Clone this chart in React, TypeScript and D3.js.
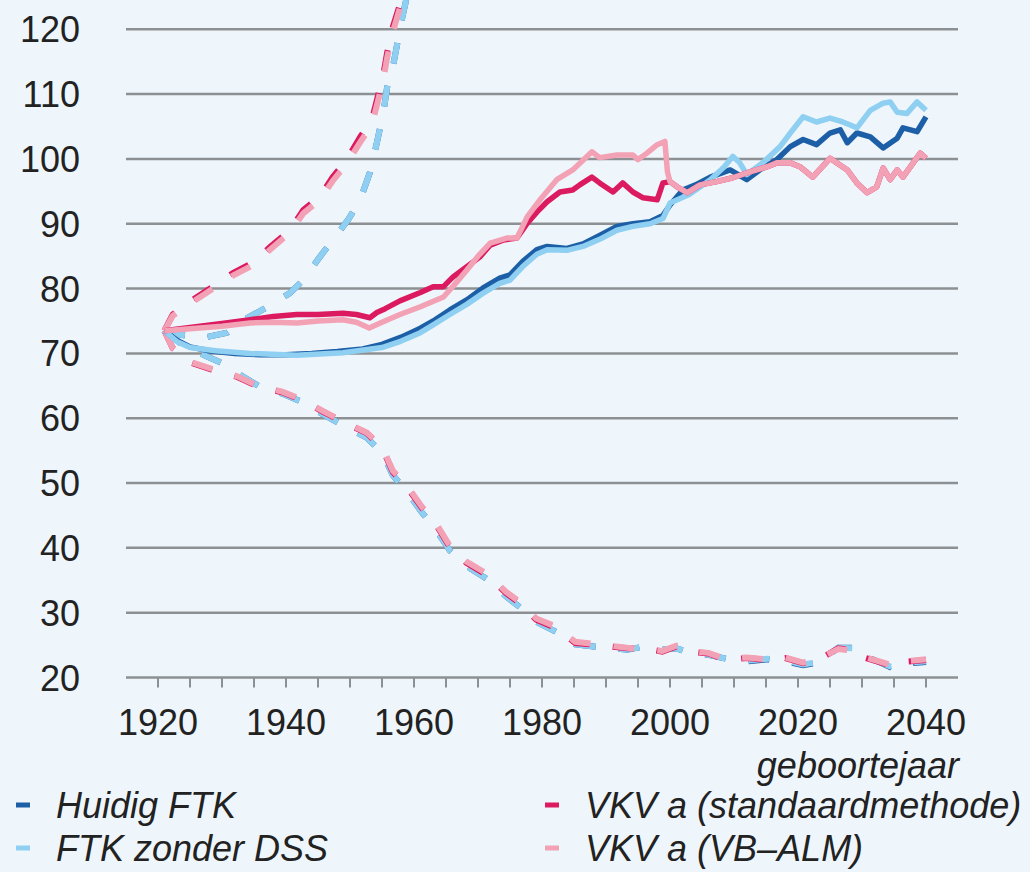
import { useEffect, useRef } from "react"
import * as d3 from "d3"

type Pt = [number, number]

// tick labels
const yTicks = [20, 30, 40, 50, 60, 70, 80, 90, 100, 110, 120]
const xLabelYears = [1920, 1940, 1960, 1980, 2000, 2020, 2040]
const xTickYears = d3.range(1920, 2041, 5)

// Huidig FTK
const huidigMedian: Pt[] = [
  [1921, 73.5], [1923, 72.0], [1925, 71.0], [1928, 70.4], [1932, 70.0], [1936, 69.8], [1940, 69.8],
  [1944, 70.0], [1948, 70.3], [1952, 70.7], [1955, 71.4], [1958, 72.5], [1961, 73.9], [1963, 75.0],
  [1965.6, 76.7], [1968.3, 78.3], [1970.8, 80.1], [1973.4, 81.6], [1975, 82.1], [1977, 84.2],
  [1979.2, 86.0], [1980.8, 86.5], [1983.9, 86.2], [1986.4, 86.9], [1989, 88.2], [1991.7, 89.6],
  [1994.2, 90.0], [1996.9, 90.3], [1998.9, 91.3], [2000, 92.9], [2002, 95.2], [2004, 96.0],
  [2006.3, 97.2], [2009.4, 98.3], [2012, 96.8], [2014, 98.3], [2016.7, 99.9], [2018.8, 101.9],
  [2020.8, 103.0], [2022.9, 102.2], [2025, 104.0], [2026.6, 104.5], [2027.7, 102.5], [2029.2, 104.0],
  [2031.3, 103.4], [2033.3, 101.7], [2035.5, 103.2], [2036.4, 104.8], [2038.6, 104.2], [2040, 106.5],
]
const huidigUpper: Pt[] = [
  [1921, 73.5], [1924, 72.8], [1927, 72.4], [1930.8, 73.2], [1934, 75.5], [1937, 77.1], [1940.6, 79.3],
  [1942.7, 81.3], [1945.3, 84.9], [1947.3, 87.5], [1949.7, 90.6], [1951.6, 93.7], [1953.1, 97.9],
  [1954.2, 102.5], [1955.2, 107.1], [1955.9, 111.7], [1956.7, 114.2], [1958.1, 121.5], [1960, 130],
]
const huidigLower: Pt[] = [
  [1921, 73.5], [1924, 71.2], [1927.5, 69.6], [1930, 68.5], [1933, 66.6], [1936, 64.8], [1939.4, 63.8],
  [1942.5, 62.5], [1945.8, 60.6], [1948.9, 58.9], [1952.6, 57.0], [1955, 54.7], [1956.7, 51.2],
  [1958.9, 48.7], [1961.2, 45.5], [1963.3, 43.0], [1965.6, 39.6], [1968.2, 37.2], [1971.4, 35.2],
  [1974.4, 32.5], [1976.6, 30.8], [1979.1, 28.6], [1982.3, 27.0], [1985.2, 25.1], [1988.9, 24.7],
  [1993.3, 24.3], [1996, 24.8], [1998.8, 24.3], [2001, 24.5], [2003.1, 23.8], [2006, 23.5],
  [2008.8, 22.9], [2012, 22.5], [2015.3, 22.8], [2018, 22.5], [2020.8, 21.9], [2023.1, 22.3],
  [2026.3, 24.6], [2028.9, 24.6], [2030.6, 23.3], [2034.4, 21.6], [2036.6, 22.1], [2040, 22.4],
]

// FTK zonder DSS
const zonderMedian: Pt[] = [
  [1921, 73.5], [1923, 71.8], [1925, 70.9], [1929, 70.4], [1934.4, 70.0], [1941.7, 69.7], [1948.9, 70.1],
  [1955, 70.9], [1958, 71.9], [1961, 73.2], [1963, 74.4], [1965.6, 76.0], [1968.3, 77.6], [1970.8, 79.3],
  [1973.4, 80.8], [1975, 81.3], [1977, 83.4], [1979.2, 85.3], [1980.8, 86.0], [1983.9, 85.9],
  [1986.4, 86.5], [1989, 87.6], [1991.7, 89.0], [1994.2, 89.6], [1996.9, 90.0], [1998.9, 90.8],
  [2000, 93.2], [2003, 94.5], [2006.3, 96.8], [2008.5, 98.8], [2009.8, 100.4], [2010.9, 99.4],
  [2012, 97.6], [2014.5, 99.4], [2017.2, 101.9], [2018.8, 104.0], [2020.8, 106.5], [2022.9, 105.7],
  [2025, 106.3], [2027, 105.7], [2029.2, 104.8], [2031.3, 107.5], [2033.3, 108.6], [2034.4, 108.8],
  [2035.5, 107.2], [2037, 107.0], [2038.6, 108.8], [2040, 107.5],
]
const zonderUpper: Pt[] = [
  [1921, 73.5], [1924, 72.8], [1927, 72.4], [1930.8, 73.2], [1934, 75.5], [1937, 77.1], [1940.6, 79.3],
  [1942.7, 81.3], [1945.3, 84.9], [1947.3, 87.5], [1949.7, 90.6], [1951.6, 93.7], [1953.1, 97.9],
  [1954.2, 102.5], [1955.2, 107.1], [1955.9, 111.7], [1956.7, 114.2], [1958.1, 121.5], [1960, 130],
]
const zonderLower: Pt[] = [
  [1921, 73.5], [1924, 71.2], [1927.5, 69.6], [1930, 68.5], [1933, 66.6], [1936, 64.8], [1939.4, 63.8],
  [1942.5, 62.5], [1945.8, 60.6], [1948.9, 58.9], [1952.6, 57.0], [1955, 54.7], [1956.7, 51.2],
  [1958.9, 48.7], [1961.2, 45.5], [1963.3, 43.0], [1965.6, 39.6], [1968.2, 37.2], [1971.4, 35.2],
  [1974.4, 32.5], [1976.6, 30.8], [1979.1, 28.6], [1982.3, 27.0], [1985.2, 25.1], [1988.9, 24.7],
  [1993.3, 24.3], [1996, 24.8], [1998.8, 24.3], [2001, 24.5], [2003.1, 23.8], [2006, 23.5],
  [2008.8, 22.9], [2012, 22.6], [2015.3, 22.9], [2018, 22.6], [2020.8, 22.0], [2023.1, 22.4],
  [2026.3, 24.6], [2028.9, 24.5], [2030.6, 23.2], [2034.4, 21.7], [2036.6, 22.2], [2040, 22.5],
]

// VKV a (standaardmethode)
const standaardMedian: Pt[] = [
  [1921, 73.5], [1925, 74.0], [1930, 74.6], [1934.4, 75.2], [1938, 75.7], [1941.7, 76.0], [1945, 76.0],
  [1948.9, 76.2], [1951, 76.0], [1953.1, 75.5], [1954.2, 76.3], [1955.5, 76.9], [1957.8, 78.1],
  [1961, 79.4], [1963, 80.3], [1964.6, 80.3], [1966.1, 81.8], [1968.3, 83.4], [1970.3, 84.9],
  [1971.9, 86.7], [1974, 87.5], [1976.1, 87.8], [1977.7, 90.1], [1979.2, 91.8], [1980.8, 93.4],
  [1982.8, 94.9], [1984.8, 95.2], [1985.9, 96.0], [1987.8, 97.2], [1989, 96.3], [1991.1, 94.9],
  [1992.6, 96.3], [1994.2, 94.9], [1995.8, 94.0], [1998, 93.7], [1998.9, 96.3], [2000, 96.5],
  [2001.1, 95.7], [2002.7, 94.8], [2004.7, 96.0], [2007.3, 96.5], [2009.8, 97.1], [2012.5, 98.0],
  [2015.2, 98.8], [2016.7, 99.4], [2018.8, 99.4], [2020.3, 98.8], [2022.3, 97.2], [2025, 100.1],
  [2027.7, 98.3], [2029.2, 96.3], [2030.8, 94.8], [2032.3, 95.7], [2033.3, 98.6], [2034.4, 96.8],
  [2035.5, 98.3], [2036.4, 97.2], [2038, 99.4], [2039.1, 100.9], [2040, 100.1],
]
const standaardUpper: Pt[] = [
  [1921, 73.5], [1922.3, 76.0], [1925.5, 78.3], [1928.6, 80.3], [1931.7, 82.4], [1934.8, 84.0],
  [1937.5, 86.4], [1940.6, 89.0], [1942.7, 92.1], [1945.3, 94.2], [1947.3, 97.2], [1949.5, 99.9],
  [1951.6, 103.4], [1953.4, 106.0], [1954.2, 109.1], [1955.2, 113.0], [1955.8, 116.4],
  [1956.7, 120.4], [1958, 124.5], [1960, 132],
]
const standaardLower: Pt[] = [
  [1921, 73.5], [1922.3, 70.8], [1925.3, 68.5], [1928.4, 67.5], [1932.3, 66.4], [1935.6, 64.9],
  [1939.4, 64.0], [1942.5, 62.8], [1945.8, 61.0], [1948.9, 59.4], [1952.6, 57.7], [1955, 55.4],
  [1956.7, 51.7], [1958.9, 49.4], [1961.2, 46.2], [1963.3, 43.8], [1965.6, 40.1], [1968.2, 37.7],
  [1971.4, 35.8], [1974.4, 33.0], [1976.6, 31.4], [1979.1, 28.9], [1982.3, 27.6], [1985.2, 25.3],
  [1988.9, 25.0], [1993.3, 24.5], [1996, 24.5], [1998.8, 24.0], [2001, 24.8], [2003.1, 24.0],
  [2006, 23.7], [2008.8, 22.7], [2012, 23.0], [2015.3, 22.7], [2018, 23.0], [2020.8, 22.2],
  [2023.1, 22.7], [2026.3, 24.5], [2028.9, 24.2], [2030.6, 23.0], [2034.4, 21.9], [2036.6, 22.4],
  [2040, 22.7],
]

// VKV a (VB-ALM)
const almMedian: Pt[] = [
  [1921, 73.5], [1925, 73.8], [1930, 74.2], [1934.4, 74.7], [1938, 74.8], [1941.7, 74.7], [1945, 75.0],
  [1948.9, 75.2], [1951, 74.8], [1953, 73.9], [1955, 74.8], [1957.8, 76.0], [1961, 77.2], [1964.6, 78.7],
  [1966.5, 80.8], [1968.3, 82.9], [1970, 85.0], [1971.9, 87.0], [1974.5, 87.8], [1976.1, 87.8],
  [1977.7, 91.1], [1979.7, 93.7], [1982.3, 96.8], [1984.8, 98.3], [1986.2, 99.6], [1987.8, 101.1],
  [1989, 100.2], [1991.7, 100.6], [1994.2, 100.6], [1995, 99.9], [1996.4, 100.9], [1998, 102.2],
  [1999.2, 102.7], [1999.6, 98.0], [2000, 96.5], [2001.1, 95.7], [2002.7, 94.8], [2004.7, 96.0],
  [2007.3, 96.5], [2009.8, 97.1], [2012.5, 98.0], [2015.2, 98.8], [2016.7, 99.4], [2018.8, 99.4],
  [2020.3, 98.8], [2022.3, 97.2], [2025, 100.1], [2027.7, 98.3], [2029.2, 96.3], [2030.8, 94.8],
  [2032.3, 95.7], [2033.3, 98.6], [2034.4, 96.8], [2035.5, 98.3], [2036.4, 97.2], [2038, 99.4],
  [2039.1, 100.9], [2040, 100.1],
]
const almUpper: Pt[] = [
  [1921, 73.5], [1922.3, 75.8], [1925.5, 78.0], [1928.6, 80.0], [1931.7, 82.0], [1934.8, 83.6],
  [1937.5, 86.0], [1940.6, 88.6], [1942.7, 91.6], [1945.3, 93.7], [1947.3, 96.6], [1949.5, 99.3],
  [1951.6, 102.6], [1953.4, 105.2], [1954.2, 108.3], [1955.2, 112.2], [1955.8, 115.6],
  [1956.7, 119.6], [1958, 124.0], [1960, 131],
]
const almLower: Pt[] = [
  [1921, 73.5], [1922.3, 70.8], [1925.3, 68.6], [1928.4, 67.6], [1932.3, 66.5], [1935.6, 65.0],
  [1939.4, 64.1], [1942.5, 62.9], [1945.8, 61.1], [1948.9, 59.5], [1952.6, 57.8], [1955, 55.6],
  [1956.7, 51.9], [1958.9, 49.6], [1961.2, 46.4], [1963.3, 44.0], [1965.6, 40.3], [1968.2, 37.9],
  [1971.4, 36.0], [1974.4, 33.2], [1976.6, 31.6], [1979.1, 29.1], [1982.3, 27.8], [1985.2, 25.5],
  [1988.9, 25.1], [1993.3, 24.6], [1996, 24.4], [1998.8, 24.1], [2001, 24.9], [2003.1, 24.1],
  [2006, 23.8], [2008.8, 22.8], [2012, 23.1], [2015.3, 22.8], [2018, 23.1], [2020.8, 22.3],
  [2023.1, 22.8], [2026.3, 24.4], [2028.9, 24.1], [2030.6, 23.1], [2034.4, 22.0], [2036.6, 22.5],
  [2040, 22.8],
]

const seriesNames = ["Huidig FTK", "FTK zonder DSS", "VKV a (standaardmethode)", "VKV a (VB\u2013ALM)"]
const seriesColors = ["#1c5fa6", "#8fcff2", "#dc1a60", "#f3a1b5"]
const seriesLines = [
  [huidigMedian, huidigUpper, huidigLower],
  [zonderMedian, zonderUpper, zonderLower],
  [standaardMedian, standaardUpper, standaardLower],
  [almMedian, almUpper, almLower],
]

const width = 1030
const height = 872
const fontFamily = "'Liberation Sans', Arial, Helvetica, sans-serif"

const App = () => {
  const svgRef = useRef<SVGSVGElement | null>(null)

  useEffect(() => {
    const svg = d3.select(svgRef.current)
    svg.selectAll("*").remove()

    svg.append("rect").attr("width", width).attr("height", height).attr("fill", "#eef6fc")

    const x = d3.scaleLinear().domain([1915, 2045]).range([126, 958])
    const y = d3.scaleLinear().domain([20, 120]).range([677.5, 29.3])

    // gridlines (the 20 line doubles as the x axis)
    svg.append("g")
      .selectAll("line")
      .data(yTicks)
      .join("line")
        .attr("x1", x(1915))
        .attr("x2", x(2045))
        .attr("y1", d => y(d))
        .attr("y2", d => y(d))
        .attr("stroke", "#8d9092")
        .attr("stroke-width", 2.5)

    // x ticks
    svg.append("g")
      .selectAll("line")
      .data(xTickYears)
      .join("line")
        .attr("x1", d => x(d))
        .attr("x2", d => x(d))
        .attr("y1", y(20))
        .attr("y2", y(20) + 10)
        .attr("stroke", "#8d9092")
        .attr("stroke-width", 2)

    // y labels
    svg.append("g")
        .attr("font-family", fontFamily)
        .attr("font-size", 36)
        .attr("fill", "#222")
        .attr("text-anchor", "end")
      .selectAll("text")
      .data(yTicks)
      .join("text")
        .attr("x", 80)
        .attr("y", d => y(d) + 13)
        .text(d => d)

    // x labels
    svg.append("g")
        .attr("font-family", fontFamily)
        .attr("font-size", 36)
        .attr("fill", "#222")
        .attr("text-anchor", "middle")
      .selectAll("text")
      .data(xLabelYears)
      .join("text")
        .attr("x", d => x(d))
        .attr("y", 735)
        .text(d => d)

    svg.append("text")
      .attr("x", 959)
      .attr("y", 778)
      .attr("font-family", fontFamily)
      .attr("font-size", 36)
      .attr("font-style", "italic")
      .attr("fill", "#222")
      .attr("text-anchor", "end")
      .text("geboortejaar")

    const line = d3.line<Pt>()
      .x(d => x(d[0]))
      .y(d => y(d[1]))

    // dashed bands first, medians on top
    seriesLines.forEach(([, upper, lower], i) => {
      svg.append("g")
          .attr("fill", "none")
          .attr("stroke", seriesColors[i])
          .attr("stroke-width", 6)
          .attr("stroke-dasharray", "21 23")
        .selectAll("path")
        .data([upper, lower])
        .join("path")
          .attr("d", d => line(d))
    })
    seriesLines.forEach(([median], i) => {
      svg.append("path")
        .attr("d", line(median))
        .attr("fill", "none")
        .attr("stroke", seriesColors[i])
        .attr("stroke-width", 5.5)
        .attr("stroke-linejoin", "round")
    })

    // legend
    const legendX = [16, 545]
    const legendY = [818, 861]
    const legend = svg.append("g")
        .attr("font-family", fontFamily)
        .attr("font-size", 36)
        .attr("font-style", "italic")
        .attr("fill", "#222")
      .selectAll("g")
      .data(seriesNames)
      .join("g")
        .attr("transform", (_, i) => `translate(${legendX[Math.floor(i / 2)]},${legendY[i % 2]})`)
    legend.append("line")
      .attr("x1", 0)
      .attr("x2", 14)
      .attr("y1", -13)
      .attr("y2", -13)
      .attr("stroke", (_, i) => seriesColors[i])
      .attr("stroke-width", 5)
    legend.append("text")
      .attr("x", 40)
      .text(d => d)
  }, [])

  return (
    <svg
      ref={svgRef}
      width={width}
      height={height}
      style={{ position: "absolute", left: 0, top: 0, display: "block" }}
    />
  )
}

export default App
